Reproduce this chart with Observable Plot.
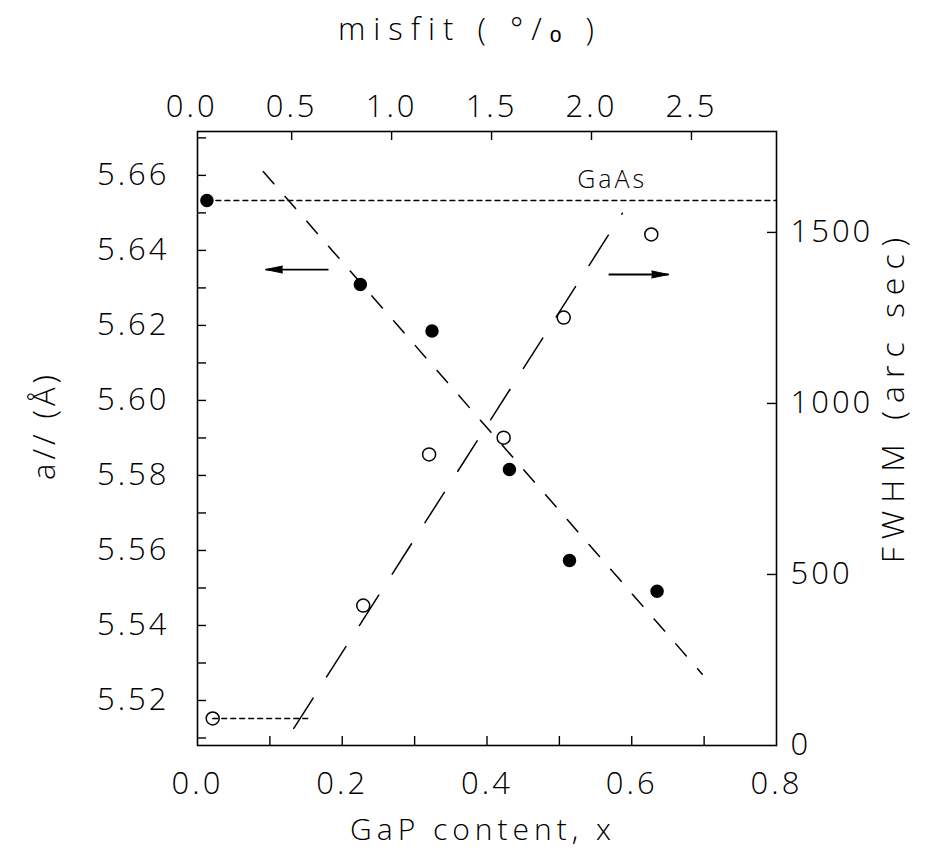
<!DOCTYPE html>
<html><head><meta charset="utf-8">
<script src="https://cdn.jsdelivr.net/npm/d3@7"></script>
<script src="https://cdn.jsdelivr.net/npm/@observablehq/plot@0.6"></script>
<style>
body{margin:0;background:#fff;}
#chart svg text{letter-spacing:3px;}
</style></head>
<body><div id="chart"></div>
<script>
// ---- data ----
const gapX        = [0.013, 0.225, 0.324, 0.431, 0.514, 0.635];
const latticeA    = [5.6533, 5.6309, 5.6185, 5.5816, 5.5573, 5.5491];
const fwhmX       = [0.021, 0.229, 0.320, 0.423, 0.506, 0.627];
const fwhmArcsec  = [79, 409, 851, 900, 1251, 1494];
const latticeFitX = [0.091, 0.6975];
const latticeFitA = [5.661, 5.527];
const fwhmFitX    = [0.133, 0.587];
const fwhmFitV    = [50, 1556];
const gaasRefX    = [0.013, 0.8];
const gaasRefA    = [5.6533, 5.6533];
const floorX      = [0.021, 0.153];
const floorV      = [79, 79];
const leftArrowX  = [0.181, 0.094];
const leftArrowA  = 5.6349;
const rightArrowX = [0.568, 0.651];
const rightArrowV = 1377;
const gaasLabel   = ["GaAs"];
const gaasLabelX  = [0.573];
const gaasLabelA  = [5.6587];

// tick values
const xTickLabels = [0, 0.2, 0.4, 0.6, 0.8];
const xTicks      = [0.1, 0.2, 0.3, 0.4, 0.5, 0.6, 0.7];
const aTickLabels = [5.52, 5.54, 5.56, 5.58, 5.60, 5.62, 5.64, 5.66];
const aTicks      = [5.51, 5.52, 5.53, 5.54, 5.55, 5.56, 5.57, 5.58, 5.59, 5.60, 5.61, 5.62, 5.63, 5.64, 5.65, 5.66, 5.67];
const fwhmTicks   = [0, 500, 1000, 1500];
const misfitTicks = [0, 0.5, 1.0, 1.5, 2.0, 2.5];

// titles
const titleTop    = "misfit ( °/ₒ )";
const titleBottom = "GaP content, x";
const titleLeft   = "a// (Å)";
const titleRight  = "FWHM (arc sec)";

// ---- scales ----
const aDomain = [5.508, 5.6717];
const fwhmMax = 1795;                         // right axis top
const toA = f => aDomain[0] + f / fwhmMax * (aDomain[1] - aDomain[0]);
const misfitToX = m => -0.008 + 0.2762 * m;   // top axis

const W = 936, H = 852, mL = 197, mR = 160, mT = 131, mB = 107;
const innerW = W - mL - mR, innerH = H - mT - mB;
const FS = 31, TICK = 9;
const font = "'Open Sans', 'DejaVu Sans', sans-serif";
const FW = 300;
const txt = {fontSize: FS, fill: "#000", fontWeight: FW};
const ttl = {...txt, textAnchor: "middle", lineAnchor: "middle"};

const aPts = gapX.map((x, i) => ({x, a: latticeA[i]}));
const fPts = fwhmX.map((x, i) => ({x, a: toA(fwhmArcsec[i])}));
const aFit = latticeFitX.map((x, i) => ({x, a: latticeFitA[i]}));
const fFit = fwhmFitX.map((x, i) => ({x, a: toA(fwhmFitV[i])}));
const gRef = gaasRefX.map((x, i) => ({x, a: gaasRefA[i]}));
const fFloor = floorX.map((x, i) => ({x, a: toA(floorV[i])}));
const arrows = [
  {x1: leftArrowX[0], x2: leftArrowX[1], a: leftArrowA, rot: -90},
  {x1: rightArrowX[0], x2: rightArrowX[1], a: toA(rightArrowV), rot: 90}
];

const chart = Plot.plot({
  width: W, height: H,
  marginLeft: mL, marginRight: mR, marginTop: mT, marginBottom: mB,
  style: {fontFamily: font, fontSize: FS + "px", background: "#fff", color: "#000"},
  x: {domain: [0, 0.8], axis: null},
  y: {domain: aDomain, axis: null},
  marks: [
    Plot.frame({stroke: "#000", strokeWidth: 1.6}),
    // inward ticks
    Plot.ruleX(xTicks, {x: d => d, insetTop: innerH - TICK, stroke: "#000", strokeWidth: 1.4}),
    Plot.ruleX(misfitTicks.filter(d => d > 0), {x: misfitToX, insetBottom: innerH - TICK, stroke: "#000", strokeWidth: 1.4}),
    Plot.ruleY(aTicks, {y: d => d, insetRight: innerW - TICK, stroke: "#000", strokeWidth: 1.4}),
    Plot.ruleY(fwhmTicks.filter(d => d > 0), {y: toA, insetLeft: innerW - TICK, stroke: "#000", strokeWidth: 1.4}),
    // tick labels
    Plot.text(xTickLabels, {x: d => d, frameAnchor: "bottom", lineAnchor: "top", dy: 26, text: d => d.toFixed(1), ...txt}),
    Plot.text(misfitTicks, {x: misfitToX, frameAnchor: "top", lineAnchor: "bottom", dy: -15, text: d => d.toFixed(1), ...txt}),
    Plot.text(aTickLabels, {y: d => d, frameAnchor: "left", textAnchor: "end", lineAnchor: "middle", dx: -28, text: d => d.toFixed(2), ...txt}),
    Plot.text(fwhmTicks, {y: toA, frameAnchor: "right", textAnchor: "start", lineAnchor: "middle", dx: 14, text: d => String(d), ...txt}),
    // titles
    Plot.text([titleTop], {frameAnchor: "top", dx: -17, dy: -101, text: d => d, ...ttl}),
    Plot.text([titleBottom], {frameAnchor: "bottom", dx: -4, dy: 85, text: d => d, ...ttl, fontSize: 30}),
    Plot.text([titleLeft], {frameAnchor: "left", dx: -152, dy: -13, rotate: -90, text: d => d, ...ttl}),
    Plot.text([titleRight], {frameAnchor: "right", dx: 117, dy: -42, rotate: -90, text: d => d, ...ttl, fontSize: 32}),
    // reference lines
    Plot.line(gRef, {x: "x", y: "a", stroke: "#000", strokeWidth: 1.3, strokeDasharray: "5,4"}),
    Plot.line(fFloor, {x: "x", y: "a", stroke: "#000", strokeWidth: 1.3, strokeDasharray: "5,4"}),
    // fit lines
    Plot.line(aFit, {x: "x", y: "a", stroke: "#000", strokeWidth: 1.5, strokeDasharray: "16,17"}),
    Plot.line(fFit, {x: "x", y: "a", stroke: "#000", strokeWidth: 1.5, strokeDasharray: "36,25"}),
    // arrows: shaft + filled head
    Plot.link(arrows, {x1: "x1", x2: "x2", y1: "a", y2: "a", stroke: "#000", strokeWidth: 1.8}),
    Plot.vector(arrows, {x: "x2", y: "a", rotate: "rot", length: 17, shape: "spike", r: 3.5, anchor: "end", fill: "#000", stroke: "#000", strokeWidth: 1}),
    // annotation
    Plot.text(gaasLabel, {x: (d, i) => gaasLabelX[i], y: (d, i) => gaasLabelA[i], text: d => d, fontSize: 25, fontWeight: FW, fill: "#000"}),
    // data points
    Plot.dot(fPts, {x: "x", y: "a", r: 6.5, fill: "none", stroke: "#000", strokeWidth: 1.5}),
    Plot.dot(aPts, {x: "x", y: "a", r: 6, fill: "#000", stroke: "#000"})
  ]
});
// wider letter spacing for the axis titles, as in the reference lettering
const spacing = {[titleTop]: "8px", [titleBottom]: "5px", [titleRight]: "8px", [titleLeft]: "4px"};
chart.querySelectorAll("text").forEach(t => {
  if (spacing[t.textContent]) t.style.letterSpacing = spacing[t.textContent];
});
document.getElementById("chart").appendChild(chart);
</script>
</body></html>
